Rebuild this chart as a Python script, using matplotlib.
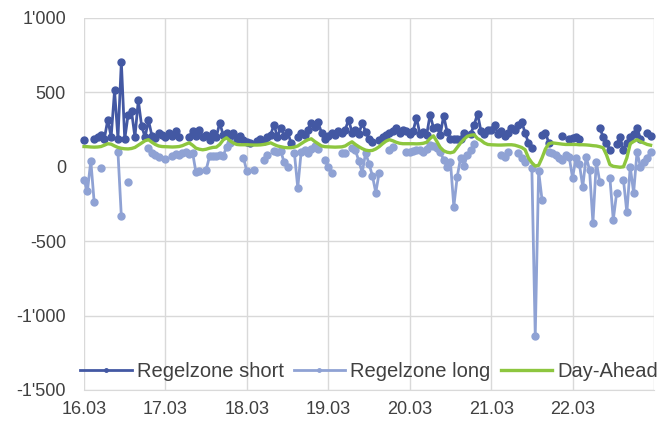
import numpy as np
import matplotlib
matplotlib.use("Agg")
import matplotlib.pyplot as plt
from matplotlib.ticker import FuncFormatter

nan = np.nan

# hourly values, 16.03 00:00 .. 22.03 23:00
short = [
    182, nan, nan, 185, 200, 215, 190, 316, 200, 513, 190, 705, 185, 350, 372, 200, 446, 271, 200, 312, 210, 195, 230, 215,
    200, 230, 210, 240, 200, nan, nan, 202, 240, 210, 249, 200, 215, 180, 230, 200, 296, 215, 230, 210, 225, 190, 205, 180,
    165, 161, nan, 175, 190, 170, 200, 215, 283, 200, 262, 210, 235, 161, nan, 200, 230, 215, 250, 296, 270, 298, 230, 190,
    210, 230, 215, 240, 225, 250, 316, 230, 245, 220, 296, 235, 190, 168, nan, 180, 200, 215, 230, 240, 260, 230, 250, 240,
    220, 240, 330, 220, 235, 215, 350, 262, 270, 215, 343, 237, 188, 188, 188, 188, 230, nan, 222, 283, 356, 240, 220, 250,
    250, 283, 220, 240, 210, 230, 260, 245, 280, 303, 229, 160, 128, nan, nan, 215, 229, 160, nan, nan, nan, 209, nan, 190,
    195, 200, 185, nan, nan, nan, nan, nan, 262, 202, 160, 114, nan, 150, 202, 110, 160, 200, 220, 262, 190, nan, 229, 210,
]
long_ = [
    -90, -165, 40, -240, nan, -7, nan, nan, nan, nan, 100, -334, nan, -101, nan, nan, nan, nan, nan, 128, 94, 81, 67, nan,
    54, nan, 75, 85, 80, 90, 100, 85, 95, -38, -30, nan, -20, 70, 75, 70, 80, 75, 130, 160, nan, nan, nan, 60,
    -31, nan, -20, nan, nan, 47, 81, nan, 103, 100, 105, 29, 0, nan, 94, -141, 100, 110, 95, 120, 140, 120, nan, 47,
    0, -40, nan, nan, 94, 90, nan, 128, 110, 40, -40, 94, 20, -60, -173, -40, nan, nan, 114, 135, nan, nan, nan, 100,
    100, 105, 110, 114, 100, 120, 148, 140, 128, 100, 47, 0, 34, -267, -67, 60, 7, 80, 110, 150, nan, nan, nan, nan,
    nan, nan, nan, 80, 67, 100, nan, nan, 94, 60, 34, nan, -10, -1135, -30, -222, nan, 100, 90, 81, 60, 47, 80, 67,
    -74, 60, 20, -135, 67, -20, -377, 34, -100, nan, nan, -74, -356, -175, nan, -87, -307, 0, -175, 100, 0, 34, 60, 100,
]
day_ahead = [
    136, 135, 133, 132, 133, 136, 145, 155, 152, 140, 130, 124, 121, 120, 123, 130, 145, 160, 175, 182, 165, 150, 140, 136,
    135, 134, 133, 134, 136, 142, 152, 161, 145, 125, 118, 114, 118, 125, 130, 132, 150, 180, 195, 175, 160, 150, 148, 148,
    148, 147, 146, 146, 147, 150, 155, 161, 150, 140, 135, 130, 128, 128, 132, 140, 155, 170, 182, 188, 170, 155, 140, 135,
    134, 133, 132, 133, 134, 140, 155, 168, 150, 135, 122, 112, 108, 110, 120, 135, 155, 172, 182, 175, 165, 158, 155, 155,
    155, 155, 154, 155, 158, 165, 190, 208, 170, 130, 108, 98, 94, 100, 130, 160, 185, 205, 212, 215, 190, 178, 160, 150,
    148, 147, 146, 146, 147, 148, 148, 145, 138, 130, 115, 60, 27, 5, 10, 60, 120, 155, 161, 158, 155, 152, 150, 150,
    150, 150, 148, 148, 147, 145, 142, 140, 135, 128, 80, 15, 3, 0, -3, 0, 60, 155, 170, 182, 170, 160, 150, 145,
]
day_labels = ["16.03", "17.03", "18.03", "19.03", "20.03", "21.03", "22.03"]

plt.rcParams["font.family"] = ["Liberation Sans", "DejaVu Sans"]
txt = "#404040"
grid = "#d9d9d9"

hours = np.arange(len(short))

fig = plt.figure(figsize=(6.7, 4.28), dpi=100)
ax = fig.add_axes([0.1254, 0.0888, 0.8507, 0.8692])

ax.plot(hours, short, color="#4358a3", lw=2, marker="o", ms=5,
        label="Regelzone short", clip_on=False, zorder=3)
ax.plot(hours, long_, color="#8fa2d4", lw=2, marker="o", ms=5,
        label="Regelzone long", clip_on=False, zorder=4)
ax.plot(hours, day_ahead, color="#8dc63f", lw=2.4,
        label="Day-Ahead", clip_on=False, zorder=5)

ax.set_xlim(0, 168)
ax.set_ylim(-1500, 1000)
ax.set_xticks(np.arange(0, 169, 24))
ax.set_xticklabels(day_labels + [""])
ax.set_yticks(np.arange(-1500, 1001, 500))
ax.yaxis.set_major_formatter(FuncFormatter(lambda v, p: f"{int(v):,}".replace(",", "'")))

ax.grid(True, color=grid, lw=1)
ax.set_axisbelow(True)
for s in ["top", "right", "left"]:
    ax.spines[s].set_visible(False)
ax.spines["bottom"].set_color(grid)
ax.tick_params(length=0, labelsize=13, colors=txt)
ax.tick_params(axis="y", pad=13)
ax.tick_params(axis="x", pad=8)

ax.legend(loc="center", bbox_to_anchor=(0.5, 0.05), ncol=3, frameon=False,
          fontsize=14.5, handlelength=2.55, handletextpad=0.25, columnspacing=0.5,
          numpoints=1, markerscale=0.5, labelcolor=txt)

fig.savefig("out.png", dpi=100)
